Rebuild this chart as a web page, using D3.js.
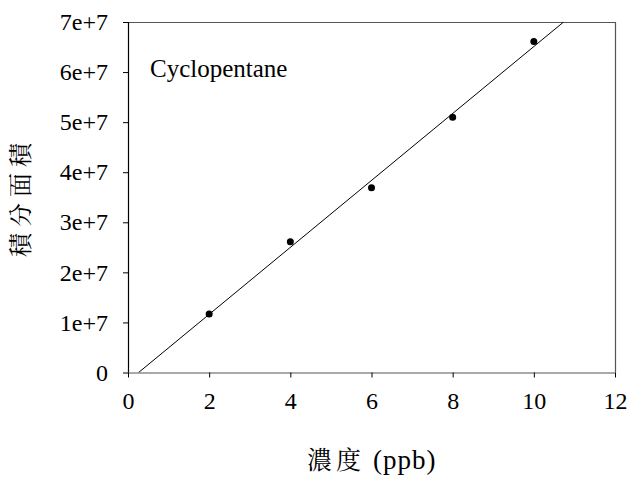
<!DOCTYPE html>
<html>
<head>
<meta charset="utf-8">
<script src="https://cdn.jsdelivr.net/npm/d3@7"></script>
</head>
<body style="margin:0;background:#fff">
<svg id="chart" style="display:block"></svg>
<script>
// data
const conc = [2, 4, 6, 8, 10];
const area = [1.17e7, 2.61e7, 3.69e7, 5.10e7, 6.61e7];
const xTicks = [0, 2, 4, 6, 8, 10, 12];
const yTicks = [0, 1e7, 2e7, 3e7, 4e7, 5e7, 6e7, 7e7];
const yTickLabels = ['0', '1e+7', '2e+7', '3e+7', '4e+7', '5e+7', '6e+7', '7e+7'];

const serif = '"Liberation Serif"';
const cjk = '"Noto Serif CJK TC"';

const width = 629, height = 481;
const margin = { left: 128, right: 14, top: 22, bottom: 108.5 };

const svg = d3.select('#chart')
  .attr('width', width)
  .attr('height', height);

const x = d3.scaleLinear().domain([0, 12]).range([margin.left, width - margin.right]);
const y = d3.scaleLinear().domain([0, 7e7]).range([height - margin.bottom, margin.top]);

// least squares fit line
const mx = d3.mean(conc), my = d3.mean(area);
const slope = d3.sum(conc, (c, i) => (c - mx) * (area[i] - my)) / d3.sum(conc, c => (c - mx) ** 2);
const icpt = my - slope * mx;
const x0 = -icpt / slope;
const x1 = (7e7 - icpt) / slope;

svg.append('defs').append('clipPath').attr('id', 'clip')
  .append('rect')
    .attr('x', x(0)).attr('y', y(7e7))
    .attr('width', x(12) - x(0)).attr('height', y(0) - y(7e7));

// frame (top + right)
svg.append('path')
  .attr('d', `M${x(0)},${y(7e7) + 0.5}H${x(12) + 0.5}V${y(0)}`)
  .attr('fill', 'none')
  .attr('stroke', '#555')
  .attr('stroke-width', 1.2);

const xAxis = svg.append('g')
  .attr('transform', `translate(0,${y(0)})`)
  .call(d3.axisBottom(x).tickValues(xTicks).tickSize(5).tickPadding(14).tickFormat(d3.format('d')));
xAxis.attr('font-family', null).attr('font-size', null);
xAxis.select('.domain').attr('stroke', '#555').attr('stroke-width', 1.2).attr('d', `M${x(0)},0.5H${x(12)}`);
xAxis.selectAll('.tick line').attr('stroke', '#000');
xAxis.selectAll('text').style('font-family', serif).style('font-size', '24px').attr('fill', '#000');

const yAxis = svg.append('g')
  .attr('transform', `translate(${x(0)},0)`)
  .call(d3.axisLeft(y).tickValues(yTicks).tickSize(5).tickPadding(15).tickFormat((d, i) => yTickLabels[i]));
yAxis.attr('font-family', null).attr('font-size', null);
yAxis.select('.domain').attr('stroke', '#000').attr('stroke-width', 1.2).attr('d', `M0.5,${y(7e7)}V${y(0)}`);
yAxis.selectAll('.tick line').attr('stroke', '#000');
yAxis.selectAll('text').style('font-family', serif).style('font-size', '24px').attr('fill', '#000');

// regression line
svg.append('line')
  .attr('clip-path', 'url(#clip)')
  .attr('x1', x(x0)).attr('y1', y(0))
  .attr('x2', x(x1)).attr('y2', y(7e7))
  .attr('stroke', '#000')
  .attr('stroke-width', 1);

svg.append('g')
  .selectAll('circle')
  .data(conc)
  .join('circle')
    .attr('cx', d => x(d))
    .attr('cy', (d, i) => y(area[i]))
    .attr('r', 3.5)
    .attr('fill', '#000');

svg.append('text')
  .attr('x', 150)
  .attr('y', 77)
  .style('font-family', serif)
  .style('font-size', '25px')
  .text('Cyclopentane');

// axis titles
const xt = svg.append('text')
  .attr('x', 307)
  .attr('y', 469);
xt.append('tspan').style('font-family', cjk).style('font-size', '25px').attr('letter-spacing', 4).text('濃度');
xt.append('tspan').style('font-family', serif).style('font-size', '27px').attr('letter-spacing', 1).attr('dx', 8).text('(ppb)');

svg.append('text')
  .attr('transform', `translate(29,197) rotate(-90)`)
  .attr('text-anchor', 'middle')
  .style('font-family', cjk)
  .style('font-size', '24px')
  .attr('letter-spacing', 6)
  .text('積分面積');
</script>
</body>
</html>
